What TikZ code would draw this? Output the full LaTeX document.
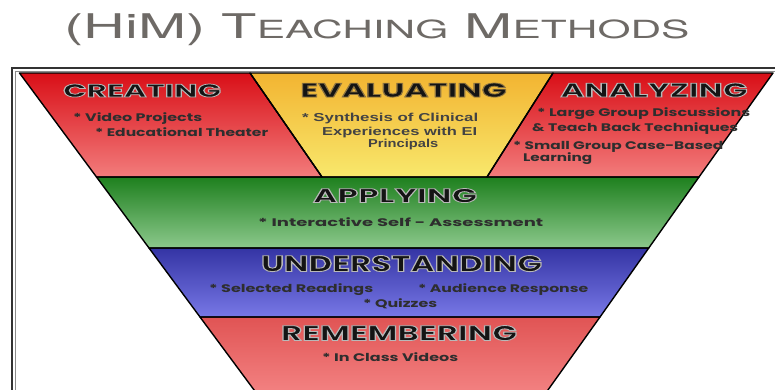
\documentclass[tikz,border=0pt]{standalone}
\usepackage{fontspec}
\usepackage{graphicx}
\setmainfont{Liberation Sans}
\newfontfamily\headfont{Poppins}
\newfontfamily\titlefont{TeX Gyre Heros}
\definecolor{ink}{HTML}{2E2E2E}
\definecolor{titlegray}{HTML}{6E6A66}
\definecolor{crTop}{HTML}{D90F17}
\definecolor{crBot}{HTML}{F27C7C}
\definecolor{evTop}{HTML}{F2B431}
\definecolor{evBot}{HTML}{F8E86C}
\definecolor{grTop}{HTML}{1E801E}
\definecolor{grBot}{HTML}{8CC88C}
\definecolor{blTop}{HTML}{3434A4}
\definecolor{blBot}{HTML}{7878E6}
\definecolor{reTop}{HTML}{E05454}
\definecolor{reBot}{HTML}{F58686}
% outlined text: stroke colour (rgb), stroke width, text
\newcommand\outl[3]{\special{pdf:literal direct #1 RG #2 w 2 Tr}#3\special{pdf:literal direct 0 Tr}}
\newcommand\bul[2]{\resizebox{#1}{\height}{#2}}
\newcommand\bulplain[2]{\resizebox{#1}{\height}{#2}}
\newcommand\headtxt[4]{\resizebox{#2}{#3}{\outl{#1}{0.8}{#4}}}
\tikzset{
  band/.style={draw=black, line width=1.4pt, line join=round},
  bl/.style={anchor=base west, inner sep=0pt, text=ink, font=\headfont\bfseries\fontsize{11}{11}\selectfont},
  ev/.style={anchor=base west, inner sep=0pt, text=ink!90, font=\fontsize{11.5}{11.5}\selectfont\bfseries},
  hd/.style={anchor=base, inner sep=0pt, text=black!92, font=\headfont\bfseries\fontsize{20}{20}\selectfont},
}
\begin{document}
\begin{tikzpicture}[x=1pt,y=-1pt]
\useasboundingbox (0,0) rectangle (775,389);
\clip (0,0) rectangle (775,389);
\fill[white] (0,0) rectangle (775,389);
% title
\node[anchor=base, inner sep=0pt, text=titlegray, font=\titlefont] (title) at (377,38)
  {\resizebox{625pt}{\height}{\fontsize{34}{34}\selectfont (HiM) T{\fontsize{25}{25}\selectfont EACHING} M{\fontsize{25}{25}\selectfont ETHODS}}};
% frame
\draw[line width=1.8pt, draw=black!80] (12,420) -- (12,68) -- (790,68);
\draw[line width=0.7pt, draw=black!45] (15.5,420) -- (15.5,71.2) -- (790,71.2);
% bands
\shade[top color=crTop, bottom color=crBot] (19.5,73) -- (250,73) -- (322,177) -- (96.5,177) -- cycle;
\shade[top color=evTop, bottom color=evBot] (250,73) -- (553,73) -- (487,177) -- (322,177) -- cycle;
\shade[top color=crTop, bottom color=crBot] (553,73) -- (773,73) -- (699,177) -- (487,177) -- cycle;
\shade[top color=grTop, bottom color=grBot] (96.5,177) -- (699,177) -- (648.75,248) -- (149,248) -- cycle;
\shade[top color=blTop, bottom color=blBot] (149,248) -- (648.75,248) -- (600,317) -- (200,317) -- cycle;
\shade[top color=reTop, bottom color=reBot] (200,317) -- (600,317) -- (540.8,400) -- (261.5,400) -- cycle;
\draw[band] (19.5,73) -- (250,73) -- (322,177) -- (96.5,177) -- cycle;
\draw[band] (250,73) -- (553,73) -- (487,177) -- (322,177) -- cycle;
\draw[band] (553,73) -- (773,73) -- (699,177) -- (487,177) -- cycle;
\draw[band] (96.5,177) -- (699,177) -- (648.75,248) -- (149,248) -- cycle;
\draw[band] (149,248) -- (648.75,248) -- (600,317) -- (200,317) -- cycle;
\draw[band] (200,317) -- (600,317) -- (540.8,400) -- (261.5,400) -- cycle;
% headings
\node[hd] (hcre) at (142,97) {\headtxt{0.72 0.72 0.72}{158pt}{13pt}{CREATING}};
\node[hd] (heva) at (403.5,97) {\headtxt{0.55 0.45 0.25}{206pt}{14pt}{EVALUATING}};
\node[hd] (hana) at (654,97) {\headtxt{0.72 0.72 0.72}{187pt}{14pt}{ANALYZING}};
\node[hd] (happ) at (395,202.5) {\headtxt{0.72 0.72 0.72}{164pt}{14pt}{APPLYING}};
\node[hd] (hund) at (401.5,271.5) {\headtxt{0.72 0.72 0.72}{281pt}{16pt}{UNDERSTANDING}};
\node[hd] (hrem) at (399,340.5) {\headtxt{0.72 0.72 0.72}{236pt}{15pt}{REMEMBERING}};
% creating items
\node[bl] (cr1) at (73,121) {\bul{129pt}{* Video Projects}};
\node[bl] (cr2) at (95,136) {\bul{173pt}{* Educational Theater}};
% evaluating items
\node[ev] (ev1) at (302,121) {\bulplain{176pt}{* Synthesis of Clinical}};
\node[ev] (ev2) at (322,135) {\bulplain{155pt}{Experiences with EI}};
\node[ev] (ev3) at (368,147) {\bulplain{70pt}{Principals}};
% analyzing items
\node[bl] (an1) at (537,116) {\bul{213pt}{* Large Group Discussions}};
\node[bl] (an2) at (532,131) {\bul{206pt}{\& Teach Back Techniques}};
\node[bl] (an3) at (513,149) {\bul{210pt}{* Small Group Case-Based}};
\node[bl] (an4) at (523,161) {\bul{69pt}{Learning}};
% applying
\node[bl] (ap1) at (258,226) {\bul{285pt}{* Interactive Self - Assessment}};
% understanding
\node[bl] (un1) at (209,292) {\bul{164pt}{* Selected Readings}};
\node[bl] (un2) at (418,292) {\bul{170pt}{* Audience Response}};
\node[bl] (un3) at (363,307) {\bul{74pt}{* Quizzes}};
% remembering
\node[bl] (re1) at (322,361) {\bul{136pt}{* In Class Videos}};
\end{tikzpicture}
\end{document}
